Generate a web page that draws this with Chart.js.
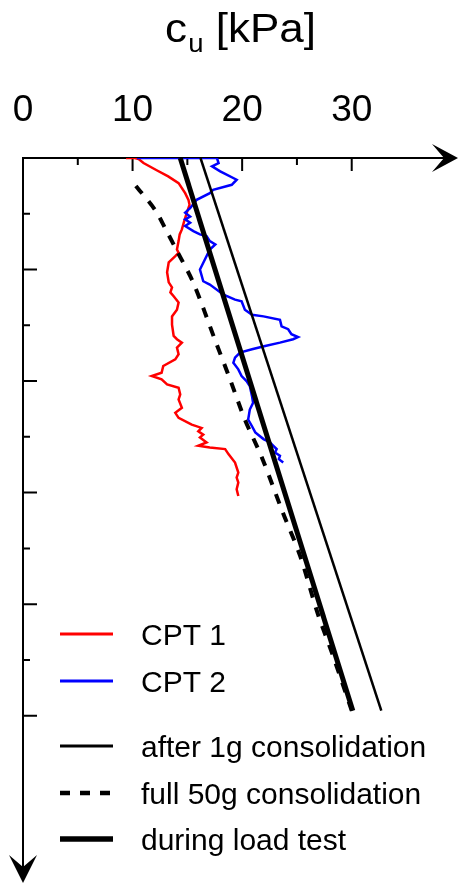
<!DOCTYPE html>
<html>
<head>
<meta charset="utf-8">
<script src="https://cdn.jsdelivr.net/npm/chart.js@4.4.1/dist/chart.umd.min.js"></script>
<style>
  html, body { margin: 0; padding: 0; background: #fff; }
  canvas { display: block; }
</style>
</head>
<body>
<canvas id="cuChart" width="459" height="884"></canvas>
<script>
// c_u [kPa] against depth (axis units, positive downwards)
const cpt1Depth = [0, 0, 0.02, 0.09, 0.22, 0.33, 0.45, 0.63, 0.75, 0.84, 0.98, 1.14, 1.28, 1.37, 1.49, 1.64, 1.70, 1.76, 1.87, 2.05, 2.23, 2.32, 2.41, 2.48, 2.59, 2.72, 2.84, 2.99, 3.19, 3.25, 3.31, 3.40, 3.52, 3.61, 3.73, 3.85, 3.91, 3.97, 4.06, 4.12, 4.24, 4.33, 4.48, 4.57, 4.66, 4.78, 4.84, 4.90, 4.96, 5.01, 5.10, 5.16, 5.19, 5.22, 5.31, 5.46, 5.64, 5.73, 5.82, 5.94, 6.06];
const cpt1Cu = [9.4, 10.2, 10.55, 11.0, 12.2, 13.25, 14.2, 14.8, 15.1, 15.2, 14.95, 14.7, 14.5, 14.3, 14.2, 14.05, 14.2, 13.9, 13.3, 13.15, 13.3, 13.6, 13.45, 13.75, 14.2, 14.05, 13.6, 13.6, 13.75, 14.05, 14.5, 14.05, 14.2, 13.9, 12.8, 12.65, 11.75, 12.65, 13.15, 14.2, 14.35, 14.2, 14.5, 13.9, 14.2, 15.4, 16.3, 16.0, 16.45, 16.15, 16.75, 16.0, 17.05, 18.45, 18.75, 19.35, 19.65, 19.5, 19.65, 19.5, 19.65];

const cpt2Depth = [0, 0, 0.09, 0.15, 0.24, 0.39, 0.48, 0.57, 0.63, 0.75, 0.90, 0.98, 1.05, 1.10, 1.16, 1.22, 1.31, 1.37, 1.40, 1.49, 1.55, 1.64, 1.82, 2.00, 2.21, 2.27, 2.45, 2.54, 2.57, 2.72, 2.81, 2.84, 2.90, 3.02, 3.07, 3.16, 3.21, 3.25, 3.31, 3.37, 3.43, 3.49, 3.58, 3.67, 3.79, 3.91, 4.00, 4.09, 4.27, 4.39, 4.51, 4.69, 4.81, 4.92, 5.04, 5.10, 5.16, 5.22, 5.28, 5.34, 5.40, 5.46];
const cpt2Cu = [10.4, 17.7, 17.85, 17.25, 18.0, 19.5, 19.05, 17.35, 17.05, 15.85, 15.25, 14.8, 15.25, 14.8, 15.25, 14.8, 15.55, 16.15, 16.75, 17.05, 17.55, 17.05, 16.6, 16.15, 16.45, 17.05, 18.3, 19.35, 19.95, 20.25, 20.9, 21.95, 23.45, 23.6, 24.2, 24.5, 25.1, 24.65, 23.45, 22.1, 20.9, 19.8, 19.35, 19.2, 19.65, 19.95, 20.4, 20.7, 20.9, 21.0, 20.7, 20.55, 20.9, 21.2, 21.95, 22.55, 22.85, 23.15, 23.0, 23.45, 23.35, 23.75];

const after1gDepth = [0, 9.91];
const after1gCu = [16.2, 32.7];

const full50gDepth = [0.5, 0.93, 1.25, 1.61, 2.24, 3.25, 3.97, 4.69, 5.37, 6.35, 7.14, 8.17, 8.93, 9.91];
const full50gCu = [10.3, 12.05, 12.95, 13.9, 15.55, 17.5, 18.9, 20.25, 21.8, 23.7, 25.3, 26.9, 28.3, 30.0];

const loadTestDepth = [0, 9.91];
const loadTestCu = [14.35, 30.1];

const xTickLabels = [0, 10, 20, 30];
const xMajorTicks = [10, 20, 30];
const xMinorTicks = [5, 15, 25];
const yMajorTicks = [2, 4, 6, 8, 10];
const yMinorTicks = [1, 3, 5, 7, 9];

const FONT = "'Liberation Sans', Arial, sans-serif";

function pts(depth, cu) {
	return depth.map((d, i) => ({x: cu[i], y: d}));
}

// axes with inward ticks and arrows (under the data), title and legend on top
const overlay = {
	id: 'overlay',
	beforeDatasetsDraw(chart) {
		const ctx = chart.ctx;
		const a = chart.chartArea;
		const xs = chart.scales.x, ys = chart.scales.y;
		const x0 = xs.getPixelForValue(0), y0 = ys.getPixelForValue(0);

		ctx.save();
		ctx.strokeStyle = '#000';
		ctx.fillStyle = '#000';
		ctx.lineWidth = 2;
		ctx.lineCap = 'butt';

		ctx.beginPath();
		ctx.moveTo(x0 - 1, y0); ctx.lineTo(a.right - 12, y0);
		ctx.moveTo(x0, y0); ctx.lineTo(x0, a.bottom - 12);
		xMajorTicks.forEach(v => { let p = xs.getPixelForValue(v); ctx.moveTo(p, y0); ctx.lineTo(p, y0 + 13); });
		xMinorTicks.forEach(v => { let p = xs.getPixelForValue(v); ctx.moveTo(p, y0); ctx.lineTo(p, y0 + 7); });
		yMajorTicks.forEach(v => { let p = ys.getPixelForValue(v); ctx.moveTo(x0, p); ctx.lineTo(x0 + 14, p); });
		yMinorTicks.forEach(v => { let p = ys.getPixelForValue(v); ctx.moveTo(x0, p); ctx.lineTo(x0 + 7, p); });
		ctx.stroke();

		// arrow heads
		ctx.beginPath();
		ctx.moveTo(a.right, y0);
		ctx.lineTo(a.right - 26, y0 - 14);
		ctx.lineTo(a.right - 14, y0);
		ctx.lineTo(a.right - 26, y0 + 14);
		ctx.closePath();
		ctx.moveTo(x0, a.bottom);
		ctx.lineTo(x0 - 14, a.bottom - 28);
		ctx.lineTo(x0, a.bottom - 16);
		ctx.lineTo(x0 + 14, a.bottom - 28);
		ctx.closePath();
		ctx.fill();
		ctx.restore();
	},
	afterDraw(chart) {
		const ctx = chart.ctx;
		const a = chart.chartArea;
		ctx.save();
		ctx.fillStyle = '#000';

		// title: c_u [kPa]
		const big = '40px ' + FONT, small = '25px ' + FONT;
		const sx = 1.1;
		ctx.font = big;
		const wc = ctx.measureText('c').width;
		const wr = ctx.measureText(' [kPa]').width;
		ctx.font = small;
		const wu = ctx.measureText('u').width;
		const total = (wc + wu + 1 + wr) * sx;
		ctx.translate((a.left + a.right) / 2 - total / 2, 0);
		ctx.scale(sx, 1);
		ctx.textBaseline = 'alphabetic';
		ctx.textAlign = 'left';
		ctx.font = big;
		ctx.fillText('c', 0, 42);
		ctx.font = small;
		ctx.fillText('u', wc + 1, 52);
		ctx.font = big;
		ctx.fillText(' [kPa]', wc + wu + 1, 42);
		ctx.setTransform(1, 0, 0, 1, 0, 0);

		// legend
		const rows = [634, 681, 746, 793, 839];
		ctx.font = '30px ' + FONT;
		chart.data.datasets.forEach(ds => {
			const ry = rows[ds.legendRow];
			ctx.save();
			ctx.strokeStyle = ds.borderColor;
			ctx.lineWidth = ds.borderWidth + 0.5;
			ctx.setLineDash(ds.borderDash || []);
			ctx.beginPath();
			ctx.moveTo(60, ry); ctx.lineTo(113, ry);
			ctx.stroke();
			ctx.restore();
			ctx.fillText(ds.label, 141, ry + 11);
		});
		ctx.restore();
	}
};

const lineStyle = {showLine: true, pointRadius: 0, pointHoverRadius: 0, fill: false};

new Chart(document.getElementById('cuChart'), {
	type: 'scatter',
	data: {
		datasets: [
			Object.assign({label: 'CPT 1', data: pts(cpt1Depth, cpt1Cu), borderColor: '#ff0000', borderWidth: 2.5, order: 4, legendRow: 0}, lineStyle),
			Object.assign({label: 'CPT 2', data: pts(cpt2Depth, cpt2Cu), borderColor: '#0000ff', borderWidth: 2.5, order: 3, legendRow: 1}, lineStyle),
			Object.assign({label: 'after 1g consolidation', data: pts(after1gDepth, after1gCu), borderColor: '#000', borderWidth: 2.5, order: 2, legendRow: 2}, lineStyle),
			Object.assign({label: 'full 50g consolidation', data: pts(full50gDepth, full50gCu), borderColor: '#000', borderWidth: 4, borderDash: [10, 10], tension: 0.3, order: 1, legendRow: 3}, lineStyle),
			Object.assign({label: 'during load test', data: pts(loadTestDepth, loadTestCu), borderColor: '#000', borderWidth: 5, order: 0, legendRow: 4}, lineStyle)
		]
	},
	options: {
		responsive: false,
		devicePixelRatio: 1,
		animation: false,
		events: [],
		layout: {padding: {left: 0, top: 0, right: 1, bottom: 1}},
		plugins: {
			legend: {display: false},
			tooltip: {enabled: false}
		},
		scales: {
			x: {
				type: 'linear',
				position: 'top',
				min: 0,
				max: 39.7,
				grid: {display: false, drawTicks: false},
				border: {display: false},
				ticks: {padding: 25, color: '#000', font: {family: FONT, size: 37}},
				afterBuildTicks: s => { s.ticks = xTickLabels.map(v => ({value: v})); },
				afterFit: s => { s.height = 158; s.paddingLeft = 0; s.paddingRight = 0; }
			},
			y: {
				type: 'linear',
				reverse: true,
				min: 0,
				max: 13,
				grid: {display: false},
				border: {display: false},
				ticks: {display: false},
				afterFit: s => { s.width = 23; s.paddingTop = 0; s.paddingBottom = 0; }
			}
		}
	},
	plugins: [overlay]
});
</script>
</body>
</html>
